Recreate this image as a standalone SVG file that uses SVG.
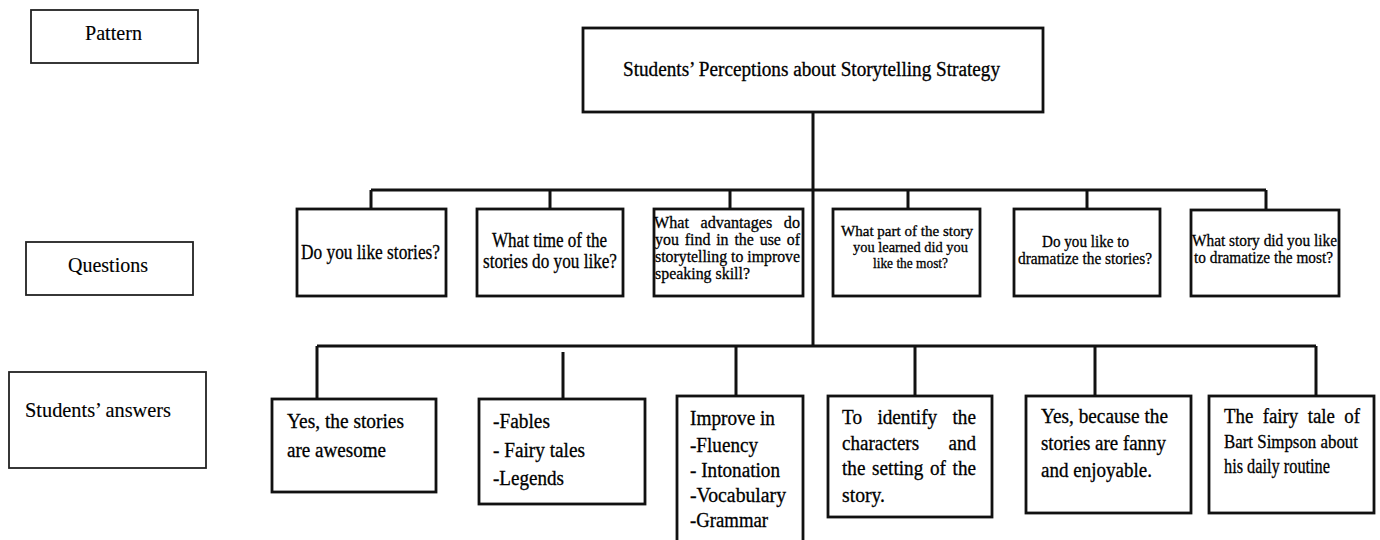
<svg xmlns="http://www.w3.org/2000/svg" width="1380" height="540" viewBox="0 0 1380 540">
<style>
.box{fill:#fff;stroke:#111;stroke-width:2.8}
.lbl{fill:#fff;stroke:#222;stroke-width:1.8}
.con{stroke:#111;stroke-width:3;fill:none}
text{font-family:"Liberation Serif","Times New Roman",serif;fill:#000;stroke:#000;stroke-width:0.3}
.q{font-size:20px}
.qs{font-size:17px}
.qt{font-size:15px}
.a{font-size:20px}
.a2{font-size:19px}
.l{font-size:22px;stroke-width:0.15}
.t{font-size:20px}
</style>
<rect width="1380" height="540" fill="#fff" stroke="none"/>
<g id="connectors">
<line class="con" x1="813" y1="112" x2="813" y2="346"/>
<line class="con" x1="371" y1="190" x2="1266" y2="190"/>
<line class="con" x1="371" y1="190" x2="371" y2="209"/>
<line class="con" x1="550" y1="190" x2="550" y2="209"/>
<line class="con" x1="730" y1="190" x2="730" y2="209"/>
<line class="con" x1="908" y1="190" x2="908" y2="209"/>
<line class="con" x1="1087" y1="190" x2="1087" y2="209"/>
<line class="con" x1="1266" y1="190" x2="1266" y2="210"/>
<line class="con" x1="317" y1="346" x2="1316" y2="346"/>
<line class="con" x1="317" y1="346" x2="317" y2="399"/>
<line class="con" x1="563" y1="352" x2="563" y2="399"/>
<line class="con" x1="736" y1="346" x2="736" y2="396"/>
<line class="con" x1="915" y1="346" x2="915" y2="396"/>
<line class="con" x1="1095" y1="346" x2="1095" y2="396"/>
<line class="con" x1="1316" y1="346" x2="1316" y2="396"/>
</g>
<g id="pattern-label">
<rect class="lbl" x="31" y="10" width="167" height="53"/>
<text class="l" x="85" y="40" textLength="57" lengthAdjust="spacingAndGlyphs">Pattern</text>
</g>
<g id="questions-label">
<rect class="lbl" x="26" y="242" width="167" height="53"/>
<text class="l" x="68" y="272" textLength="80" lengthAdjust="spacingAndGlyphs">Questions</text>
</g>
<g id="answers-label">
<rect class="lbl" x="9" y="372" width="197" height="96"/>
<text class="l" x="25" y="417" textLength="146" lengthAdjust="spacingAndGlyphs">Students’ answers</text>
</g>
<g id="title">
<rect class="box" x="583" y="28" width="460" height="84"/>
<text class="t" x="623" y="76" textLength="377" lengthAdjust="spacingAndGlyphs">Students’ Perceptions about Storytelling Strategy</text>
</g>
<g id="q1">
<rect class="box" x="297" y="209" width="149" height="87"/>
<text class="q" x="301" y="259" textLength="139" lengthAdjust="spacingAndGlyphs">Do you like stories?</text>
</g>
<g id="q2">
<rect class="box" x="477" y="209" width="146" height="87"/>
<text class="q" x="492" y="247" textLength="115" lengthAdjust="spacingAndGlyphs">What time of the</text>
<text class="q" x="483" y="268" textLength="134" lengthAdjust="spacingAndGlyphs">stories do you like?</text>
</g>
<g id="q3">
<rect class="box" x="654" y="209" width="149" height="87"/>
<text class="qs" x="654" y="228" textLength="146" lengthAdjust="spacingAndGlyphs" word-spacing="8">What advantages do</text>
<text class="qs" x="655" y="245" textLength="145" lengthAdjust="spacingAndGlyphs" word-spacing="2">you find in the use of</text>
<text class="qs" x="655" y="262" textLength="145" lengthAdjust="spacingAndGlyphs">storytelling to improve</text>
<text class="qs" x="655" y="279" textLength="95" lengthAdjust="spacingAndGlyphs">speaking skill?</text>
</g>
<g id="q4">
<rect class="box" x="833" y="209" width="147" height="87"/>
<text class="qt" x="841" y="236" textLength="132" lengthAdjust="spacingAndGlyphs">What part of the story</text>
<text class="qt" x="853" y="252" textLength="115" lengthAdjust="spacingAndGlyphs">you learned did you</text>
<text class="qt" x="873" y="268" textLength="75" lengthAdjust="spacingAndGlyphs">like the most?</text>
</g>
<g id="q5">
<rect class="box" x="1014" y="209" width="146" height="87"/>
<text class="qs" x="1042" y="247" textLength="87" lengthAdjust="spacingAndGlyphs">Do you like to</text>
<text class="qs" x="1018" y="264" textLength="134" lengthAdjust="spacingAndGlyphs">dramatize the stories?</text>
</g>
<g id="q6">
<rect class="box" x="1191" y="210" width="148" height="86"/>
<text class="qs" x="1192" y="246" textLength="145" lengthAdjust="spacingAndGlyphs">What story did you like</text>
<text class="qs" x="1194" y="263" textLength="139" lengthAdjust="spacingAndGlyphs">to dramatize the most?</text>
</g>
<g id="a1">
<rect class="box" x="272" y="399" width="164" height="93"/>
<text class="a" x="287" y="428" textLength="117" lengthAdjust="spacingAndGlyphs">Yes, the stories</text>
<text class="a" x="287" y="457" textLength="99" lengthAdjust="spacingAndGlyphs">are awesome</text>
</g>
<g id="a2">
<rect class="box" x="479" y="399" width="166" height="105"/>
<text class="a" x="493" y="428" textLength="57" lengthAdjust="spacingAndGlyphs">-Fables</text>
<text class="a" x="493" y="457" textLength="92" lengthAdjust="spacingAndGlyphs">- Fairy tales</text>
<text class="a" x="493" y="485" textLength="71" lengthAdjust="spacingAndGlyphs">-Legends</text>
</g>
<g id="a3">
<rect class="box" x="677" y="396" width="126" height="150"/>
<text class="a" x="690" y="425" textLength="85" lengthAdjust="spacingAndGlyphs">Improve in</text>
<text class="a" x="690" y="452" textLength="68" lengthAdjust="spacingAndGlyphs">-Fluency</text>
<text class="a" x="690" y="477" textLength="90" lengthAdjust="spacingAndGlyphs">- Intonation</text>
<text class="a" x="690" y="502" textLength="96" lengthAdjust="spacingAndGlyphs">-Vocabulary</text>
<text class="a" x="690" y="527" textLength="78" lengthAdjust="spacingAndGlyphs">-Grammar</text>
</g>
<g id="a4">
<rect class="box" x="828" y="396" width="164" height="121"/>
<text class="a" x="842" y="424" textLength="134" lengthAdjust="spacingAndGlyphs" word-spacing="11">To identify the</text>
<text class="a" x="842" y="450" textLength="134" lengthAdjust="spacingAndGlyphs" word-spacing="26">characters and</text>
<text class="a" x="842" y="475" textLength="134" lengthAdjust="spacingAndGlyphs" word-spacing="2">the setting of the</text>
<text class="a" x="842" y="502" textLength="43" lengthAdjust="spacingAndGlyphs">story.</text>
</g>
<g id="a5">
<rect class="box" x="1026" y="396" width="165" height="117"/>
<text class="a" x="1041" y="423" textLength="127" lengthAdjust="spacingAndGlyphs">Yes, because the</text>
<text class="a" x="1041" y="450" textLength="125" lengthAdjust="spacingAndGlyphs">stories are fanny</text>
<text class="a" x="1041" y="477" textLength="111" lengthAdjust="spacingAndGlyphs">and enjoyable.</text>
</g>
<g id="a6">
<rect class="box" x="1209" y="396" width="165" height="117"/>
<text class="a" x="1224" y="423" textLength="136" lengthAdjust="spacingAndGlyphs" word-spacing="5">The fairy tale of</text>
<text class="a2" x="1224" y="448" textLength="134" lengthAdjust="spacingAndGlyphs">Bart Simpson about</text>
<text class="a" x="1224" y="473" textLength="106" lengthAdjust="spacingAndGlyphs">his daily routine</text>
</g>
</svg>
